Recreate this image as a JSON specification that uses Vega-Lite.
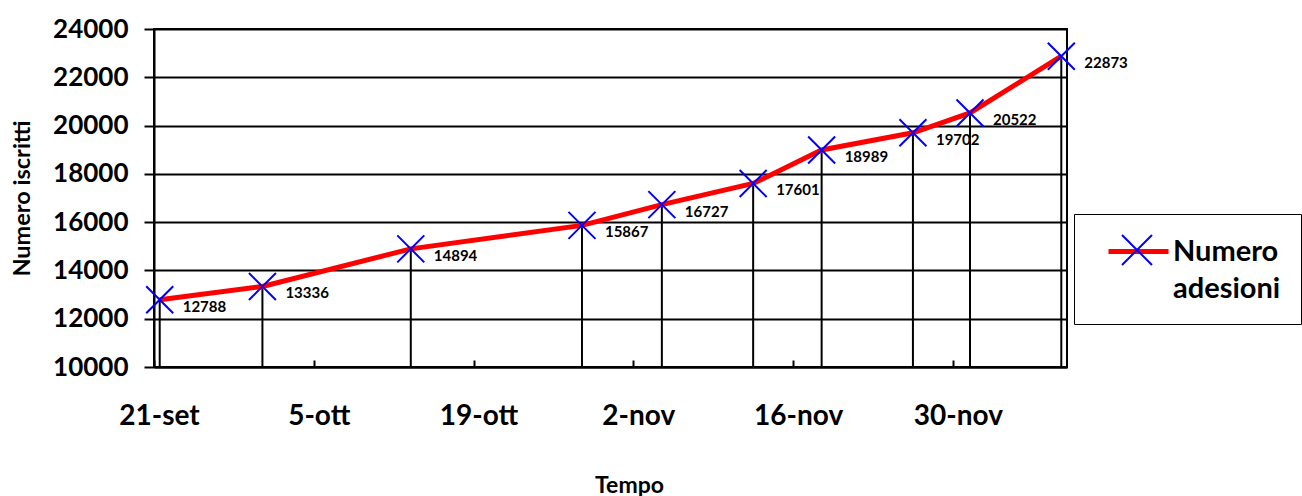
{
  "$schema": "https://vega.github.io/schema/vega-lite/v6.json",
  "autosize": "none",
  "width": 913,
  "height": 338,
  "padding": {"left": 154, "top": 29, "right": 235, "bottom": 129},
  "background": "white",
  "view": {"stroke": "black", "strokeWidth": 2},
  "config": {
    "font": "Lato",
    "style": {"guide-label": {"lineHeight": 37}}
  },
  "data": {
    "values": [
      {"data": "2009-09-21", "iscritti": 12788},
      {"data": "2009-09-30", "iscritti": 13336},
      {"data": "2009-10-13", "iscritti": 14894},
      {"data": "2009-10-28", "iscritti": 15867},
      {"data": "2009-11-04", "iscritti": 16727},
      {"data": "2009-11-12", "iscritti": 17601},
      {"data": "2009-11-18", "iscritti": 18989},
      {"data": "2009-11-26", "iscritti": 19702},
      {"data": "2009-12-01", "iscritti": 20522},
      {"data": "2009-12-09", "iscritti": 22873}
    ]
  },
  "encoding": {
    "x": {
      "field": "data",
      "type": "temporal",
      "title": "Tempo",
      "scale": {
        "type": "utc",
        "domain": [
          {"year": 2009, "month": 9, "date": 20, "hours": 12, "utc": true},
          {"year": 2009, "month": 12, "date": 9, "hours": 12, "utc": true}
        ]
      },
      "axis": {
        "values": [
          {"year": 2009, "month": 9, "date": 20, "hours": 12, "utc": true},
          {"year": 2009, "month": 10, "date": 4, "hours": 12, "utc": true},
          {"year": 2009, "month": 10, "date": 18, "hours": 12, "utc": true},
          {"year": 2009, "month": 11, "date": 1, "hours": 12, "utc": true},
          {"year": 2009, "month": 11, "date": 15, "hours": 12, "utc": true},
          {"year": 2009, "month": 11, "date": 29, "hours": 12, "utc": true}
        ],
        "labelExpr": "utcdate(datum.value + 43200000) + '-' + ['gen','feb','mar','apr','mag','giu','lug','ago','set','ott','nov','dic'][utcmonth(datum.value + 43200000)]",
        "labelFont": "Lato",
        "labelFontSize": 28,
        "labelFontWeight": "bold",
        "labelColor": "black",
        "labelOffset": 5,
        "labelPadding": 42,
        "labelFlush": false,
        "labelOverlap": false,
        "grid": false,
        "domainColor": "black",
        "domainWidth": 2,
        "tickColor": "black",
        "tickWidth": 2,
        "tickSize": -7,
        "titleFont": "Lato",
        "titleFontSize": 23,
        "titleFontWeight": "bold",
        "titleColor": "black",
        "titleX": 475,
        "titleY": 118,
        "titleBaseline": "middle"
      }
    },
    "y": {
      "field": "iscritti",
      "type": "quantitative",
      "title": "Numero iscritti",
      "scale": {"domain": [10000, 24000], "nice": false, "zero": false},
      "axis": {
        "values": [10000, 12000, 14000, 16000, 18000, 20000, 22000, 24000],
        "format": "d",
        "labelFont": "Lato",
        "labelFontSize": 26,
        "labelFontWeight": "bold",
        "labelColor": "black",
        "labelPadding": 16,
        "gridColor": "black",
        "gridWidth": 2,
        "gridOpacity": 1,
        "domainColor": "black",
        "domainWidth": 2,
        "tickColor": "black",
        "tickWidth": 2,
        "tickSize": 10,
        "titleFont": "Lato",
        "titleFontSize": 23.5,
        "titleFontWeight": "bold",
        "titleColor": "black",
        "titleX": -132,
        "titleY": 169,
        "titleAngle": -90,
        "titleBaseline": "middle",
        "titleAlign": "center"
      }
    }
  },
  "layer": [
    {
      "mark": {"type": "rule", "color": "black", "strokeWidth": 2},
      "encoding": {"y2": {"datum": 10000}}
    },
    {
      "mark": {"type": "line", "strokeWidth": 5},
      "encoding": {
        "color": {
          "datum": "Numero adesioni",
          "scale": {"range": ["#ff0000"]},
          "legend": {
            "orient": "none",
            "legendX": 920,
            "legendY": 185,
            "title": null,
            "padding": 20,
            "symbolOffset": 27,
            "strokeColor": "black",
            "fillColor": "white",
            "symbolType": "M-2,0L2,0",
            "symbolSize": 900,
            "symbolStrokeWidth": 5,
            "symbolStrokeColor": "#ff0000",
            "symbolFillColor": "transparent",
            "labelExpr": "['Numero', 'adesioni']",
            "labelFont": "Lato",
            "labelFontSize": 29,
            "labelFontWeight": "bold",
            "labelColor": "black",
            "labelLimit": 400,
            "labelOffset": 17
          }
        }
      }
    },
    {
      "mark": {"type": "point", "filled": false, "color": "#0000ff", "strokeWidth": 2, "size": 729, "opacity": 1},
      "encoding": {
        "shape": {
          "datum": "X",
          "scale": {"range": ["M-1,-1L1,1M-1,1L1,-1"]},
          "legend": {
            "orient": "none",
            "legendX": 920,
            "legendY": 185,
            "title": null,
            "padding": 20,
            "symbolOffset": 27,
            "symbolType": "M-0.93,-0.93L0.93,0.93M-0.93,0.93L0.93,-0.93",
            "symbolSize": 900,
            "symbolStrokeWidth": 2,
            "symbolStrokeColor": "#0000ff",
            "symbolFillColor": "transparent",
            "labelExpr": "''",
            "labelFont": "Lato",
            "labelFontSize": 29,
            "labelFontWeight": "bold",
            "labelOpacity": 0,
            "labelLimit": 400,
            "labelOffset": 17
          }
        }
      }
    },
    {
      "mark": {"type": "text", "align": "left", "baseline": "middle", "dx": 23, "dy": 7, "font": "Lato", "fontSize": 15, "fontWeight": "bold", "color": "black"},
      "encoding": {"text": {"field": "iscritti", "type": "quantitative", "format": "d"}}
    }
  ]
}
